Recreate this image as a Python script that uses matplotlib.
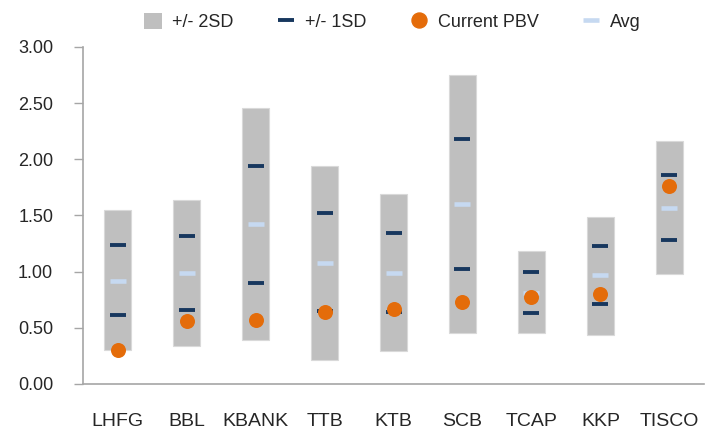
import matplotlib.pyplot as plt
import numpy as np
from matplotlib.lines import Line2D
from matplotlib.patches import Patch

plt.rcParams['font.family'] = ['Liberation Sans', 'DejaVu Sans']

banks = ['LHFG', 'BBL', 'KBANK', 'TTB', 'KTB', 'SCB', 'TCAP', 'KKP', 'TISCO']
sd2_low = [0.30, 0.34, 0.39, 0.21, 0.29, 0.45, 0.45, 0.44, 0.98]
sd2_high = [1.55, 1.64, 2.46, 1.94, 1.69, 2.75, 1.18, 1.49, 2.16]
sd1_low = [0.61, 0.66, 0.90, 0.65, 0.64, 1.02, 0.63, 0.71, 1.28]
sd1_high = [1.24, 1.32, 1.94, 1.52, 1.34, 2.18, 1.00, 1.23, 1.86]
avg = [0.92, 0.99, 1.42, 1.08, 0.99, 1.60, 0.81, 0.97, 1.57]
current = [0.30, 0.56, 0.57, 0.64, 0.67, 0.73, 0.77, 0.80, 1.76]

gray = '#BFBFBF'
navy = '#17375E'
light = '#C6D9F1'
orange = '#E46C0A'
txt = '#262626'

fig = plt.figure(figsize=(7.15, 4.37), dpi=100)
ax = fig.add_axes([0.1161, 0.1213, 0.8685, 0.7712])

x = np.arange(len(banks))
low = np.array(sd2_low)
high = np.array(sd2_high)
ax.bar(x, high - low, bottom=low, width=0.4, color=gray, edgecolor='#D9D9D9', linewidth=0.8, zorder=2)
ax.scatter(x, sd1_high, marker='_', s=11.5 ** 2, linewidths=2.8, color=navy, zorder=3)
ax.scatter(x, sd1_low, marker='_', s=11.5 ** 2, linewidths=2.8, color=navy, zorder=3)
ax.scatter(x, avg, marker='_', s=12 ** 2, linewidths=3.3, color=light, zorder=3)
ax.scatter(x, current, marker='o', s=10.8 ** 2, color=orange, linewidths=0, zorder=4)

ax.set_xlim(-0.5, 8.5)
ax.set_ylim(0, 3)
yt = np.arange(0, 3.01, 0.5)
ax.set_yticks(yt)
ax.set_yticklabels(['%.2f' % v for v in yt])
ax.set_xticks(x)
ax.set_xticklabels(banks)
ax.tick_params(axis='x', length=0, pad=21, labelsize=14, labelcolor=txt)
ax.tick_params(axis='y', length=6.5, color='#A6A6A6', width=1, pad=15, labelsize=13, labelcolor=txt)
for s in ['top', 'right']:
    ax.spines[s].set_visible(False)
for s in ['left', 'bottom']:
    ax.spines[s].set_color('#A6A6A6')
    ax.spines[s].set_linewidth(1.2)

handles = [
    Patch(facecolor=gray, edgecolor='none'),
    Line2D([], [], marker='_', linestyle='none', markersize=11.5, markeredgewidth=2.8, color=navy),
    Line2D([], [], marker='o', linestyle='none', markersize=10.8, color=orange),
    Line2D([], [], marker='_', linestyle='none', markersize=12, markeredgewidth=3.3, color=light),
]
labels = ['+/- 2SD', '+/- 1SD', 'Current PBV', 'Avg']
fig.legend(handles, labels, loc='center', bbox_to_anchor=(0.549, 0.95), ncol=4, frameon=False,
           fontsize=13, handlelength=1.0, handleheight=1.0, handletextpad=0.55, columnspacing=2.4,
           labelcolor=txt, borderaxespad=0, borderpad=0)

fig.savefig('out.png', dpi=100)
